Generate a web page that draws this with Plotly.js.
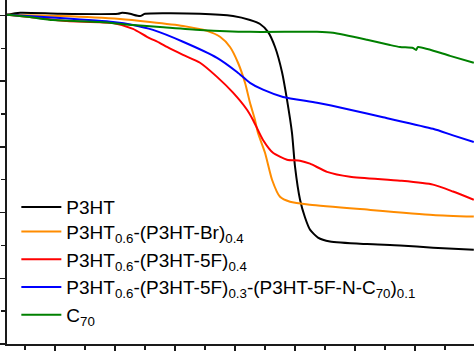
<!DOCTYPE html>
<html>
<head>
<meta charset="utf-8">
<script src="https://cdn.plot.ly/plotly-3.0.1.min.js"></script>
<style>html,body{margin:0;padding:0;background:#fff;}#chart{width:474px;height:351px;}</style>
</head>
<body>
<div id="chart"></div>
<script>
// Temperature (°C) and weight (%)
const names = [
  "P3HT",
  "P3HT<sub>0.6</sub>-(P3HT-Br)<sub>0.4</sub>",
  "P3HT<sub>0.6</sub>-(P3HT-5F)<sub>0.4</sub>",
  "P3HT<sub>0.6</sub>-(P3HT-5F)<sub>0.3</sub>-(P3HT-5F-N-C<sub>70</sub>)<sub>0.1</sub>",
  "C<sub>70</sub>"
];
const colors = ["#000000", "#ff8c00", "#ff0000", "#0000ff", "#008000"];

const p3htX = [20, 41.7, 108.3, 205, 211.7, 225, 241.7, 250, 341.7, 396.7, 425, 441.7, 455, 466.7, 478.3, 486.7, 495, 500, 508.3, 516.7, 525, 538.3, 558.3, 620, 675, 730, 798];
const p3htY = [100.2, 100.8, 100.5, 100.5, 100.8, 100.5, 99.8, 100.5, 100.5, 99.8, 98.6, 97.4, 95.0, 90.4, 82.8, 74.3, 64.2, 54.0, 44.0, 38.5, 34.8, 32.4, 31.2, 30.4, 30.0, 29.3, 28.7];

const brX = [20, 108.3, 208.3, 258.3, 313.3, 353.3, 375, 391.7, 405, 416.7, 425, 433.3, 438.3, 450, 461.7, 475, 491.7, 525, 620, 730, 798];
const brY = [100.2, 99.8, 98.9, 98.0, 96.8, 95.3, 93.5, 90.4, 85.6, 79.5, 73.4, 68.2, 64.2, 58.2, 50.0, 44.8, 43.3, 42.4, 40.9, 39.3, 38.8];

const fX = [20, 58.3, 120, 196.7, 230, 253.3, 275, 286.7, 313.3, 341.7, 370, 396.7, 420, 430, 446.7, 463.3, 486.7, 508.3, 525, 553.3, 591.7, 675, 730, 763.3, 798];
const fY = [100.2, 99.5, 98.3, 97.7, 95.9, 93.5, 91.6, 90.4, 88.0, 85.6, 81.3, 76.5, 71.3, 68.2, 62.1, 58.2, 56.1, 55.8, 54.9, 52.4, 50.9, 49.7, 48.5, 46.4, 43.9];

const c70tX = [20, 108.3, 196.7, 230, 263.3, 313.3, 370, 403.3, 425, 446.7, 480, 536.7, 591.7, 646.7, 730, 763.3, 798];
const c70tY = [100.2, 99.2, 98.0, 97.1, 95.6, 92.0, 87.1, 82.8, 79.5, 77.4, 75.2, 73.4, 71.3, 69.0, 65.5, 63.5, 61.5];

const c70X = [20, 58.3, 96.7, 175, 230, 275, 341.7, 425, 536.7, 563.3, 620, 658.3, 675, 696.7, 701.7, 705, 758.3, 798];
const c70Y = [100.2, 99.5, 98.6, 98.0, 97.1, 96.5, 95.6, 95.0, 95.0, 94.7, 92.6, 91.0, 90.4, 90.1, 89.5, 90.4, 87.7, 85.6];

const xs = [p3htX, brX, fX, c70tX, c70X];
const ys = [p3htY, brY, fY, c70tY, c70Y];

const traces = names.map((n, i) => ({
  x: xs[i], y: ys[i], name: n, type: "scatter", mode: "lines",
  legend: i === 0 ? "legend2" : "legend",
  line: {color: colors[i], width: 2, shape: "spline", smoothing: 0.6}
}));

const axisCommon = {
  showgrid: false, zeroline: false, showticklabels: false,
  showline: true, linecolor: "#1a1a1a", linewidth: 1.6,
  ticks: "outside", ticklen: 7, tickwidth: 1.4, tickcolor: "#1a1a1a"
};

const legendFont = {family: "Liberation Sans, Arial, sans-serif", size: 19, color: "#000"};

const layout = {
  width: 474, height: 351,
  margin: {l: 7, r: 0, t: 0, b: 7, pad: 0},
  paper_bgcolor: "#fff", plot_bgcolor: "#fff",
  showlegend: true,
  legend: {
    x: 0.02, xanchor: "left", y: 0.03, yanchor: "bottom",
    bgcolor: "rgba(0,0,0,0)", borderwidth: 0,
    font: legendFont, tracegroupgap: 0, itemwidth: 40
  },
  legend2: {
    x: 0.02, xanchor: "left", y: 0.398, yanchor: "middle",
    bgcolor: "rgba(0,0,0,0)", borderwidth: 0,
    font: legendFont, tracegroupgap: 0, itemwidth: 40
  },
  xaxis: Object.assign({}, axisCommon, {
    range: [20, 798.3], tick0: 0, dtick: 100,
    minor: {dtick: 50, tick0: 0, ticks: "outside", ticklen: 4, tickwidth: 1.4, tickcolor: "#1a1a1a"}
  }),
  yaxis: Object.assign({}, axisCommon, {
    range: [0, 104.7], tick0: 0, dtick: 20,
    minor: {dtick: 10, tick0: 0, ticks: "outside", ticklen: 4, tickwidth: 1.4, tickcolor: "#1a1a1a"}
  })
};

Plotly.newPlot("chart", traces, layout, {staticPlot: true, displayModeBar: false});
</script>
</body>
</html>
